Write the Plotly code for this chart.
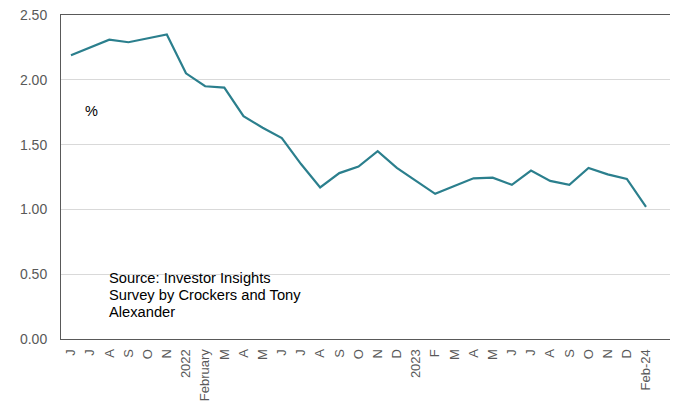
import plotly.graph_objects as go

tick_labels = ["J", "J", "A", "S", "O", "N", "2022", "February", "M", "A", "M", "J", "J", "A",
               "S", "O", "N", "D", "2023", "F", "M", "A", "M", "J", "J", "A", "S", "O", "N", "D", "Feb-24"]
values = [2.19, 2.25, 2.31, 2.29, 2.32, 2.35, 2.05, 1.95, 1.94, 1.72, 1.63, 1.55, 1.35, 1.17,
          1.28, 1.33, 1.45, 1.32, 1.22, 1.12, 1.18, 1.24, 1.245, 1.19, 1.30, 1.22, 1.19, 1.32,
          1.27, 1.235, 1.02]
y_ticks = [0.0, 0.5, 1.0, 1.5, 2.0, 2.5]
source_lines = ["Source: Investor Insights", "Survey by Crockers and Tony", "Alexander"]

idx = list(range(len(values)))

# the page body has an 8px margin, so the figure is drawn at (8, 8)
OFF = 8
W, H = 678 - OFF, 404 - OFF
# plot box in page pixels: left 61, top 15, right 674, bottom 339
L, T = 61 - OFF, 15 - OFF
R = W - (674 - OFF)
B = H - (339 - OFF)
pw, ph = W - L - R, H - T - B

def px(x):
    return (x - OFF - L) / pw

def py(y):
    return 1 - (y - OFF - T) / ph

fig = go.Figure()
fig.add_trace(go.Scatter(x=idx, y=values, mode="lines",
                         line=dict(color="#2b7f8d", width=2.2), hoverinfo="skip"))

fig.update_layout(
    width=W, height=H,
    margin=dict(l=L, r=R, t=T, b=B, autoexpand=False),
    paper_bgcolor="white", plot_bgcolor="white",
    showlegend=False,
    font=dict(family="Liberation Sans, Arial, sans-serif", color="#595959"),
)
fig.update_xaxes(
    tickmode="array", tickvals=idx, ticktext=tick_labels, tickangle=-90,
    range=[-0.52, 31.46], showgrid=False, zeroline=False, automargin=False,
    showline=True, linecolor="#595959", linewidth=1, mirror=True,
    ticks="", ticklabelstandoff=4, ticklabeloverflow="allow",
    tickfont=dict(size=13, color="#595959"),
)
fig.update_yaxes(
    tickmode="array", tickvals=y_ticks, ticktext=[f"{v:.2f}" for v in y_ticks],
    range=[0, 2.5], showgrid=True, gridcolor="#d9d9d9", gridwidth=1, zeroline=False,
    automargin=False,
    showline=True, linecolor="#595959", linewidth=1, mirror=True,
    ticks="", ticklabelstandoff=10, ticklabeloverflow="allow",
    tickfont=dict(size=14, color="#595959"),
)

fig.add_annotation(x=px(91), y=py(111), xref="paper", yref="paper", text="%", showarrow=False,
                   xanchor="center", yanchor="middle",
                   font=dict(size=14.5, color="black"))
for i, line in enumerate(source_lines):
    fig.add_annotation(x=px(107), y=py(278 + 17 * i), xref="paper", yref="paper",
                       text=line, showarrow=False, align="left",
                       xanchor="left", yanchor="middle",
                       font=dict(size=14.7, color="black"))

fig.write_html("out.html")
